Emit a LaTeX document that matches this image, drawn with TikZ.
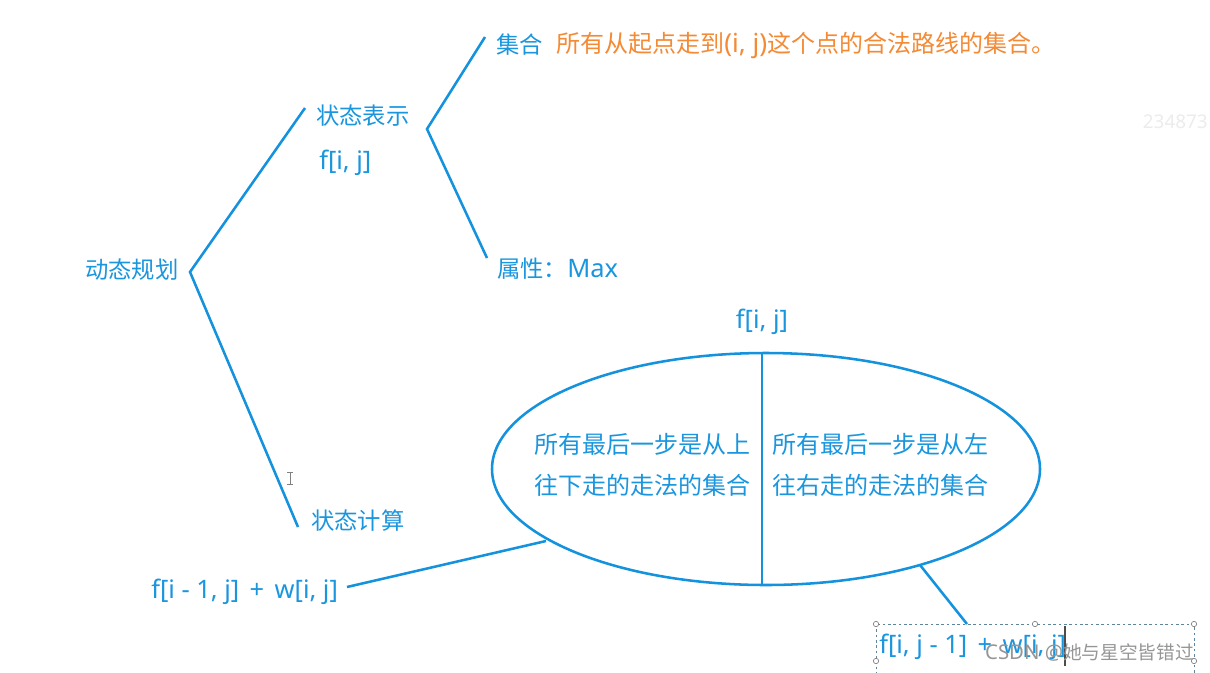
\documentclass[tikz,border=0pt]{standalone}
\usepackage{fontspec}
\usetikzlibrary{shapes.geometric}
\setmainfont{Noto Sans}[Scale=1.09]
\newfontfamily\cjk{Noto Sans CJK SC}
\definecolor{lineblue}{RGB}{20,146,222}
\definecolor{txtblue}{RGB}{26,150,222}
\definecolor{txtorange}{RGB}{244,138,52}
\definecolor{wmgray}{RGB}{150,150,150}
\definecolor{faintgray}{RGB}{236,236,236}
\newcommand{\plusgap}{\ \hspace{0.15em}+\ \hspace{0.15em}}
\tikzset{
  conn/.style={draw=lineblue, line width=1.9pt},
  lbl/.style={text=txtblue, inner sep=0pt, anchor=west, font=\fontsize{17.5}{21}\selectfont},
  clbl/.style={lbl, font=\fontsize{17.5}{21}\selectfont\cjk},
  elbl/.style={lbl, font=\fontsize{18}{22}\selectfont\cjk},
  olbl/.style={lbl, text=txtorange, font=\fontsize{18}{22}\selectfont},
  handle/.style={circle, draw=gray, fill=white, inner sep=0pt, minimum size=4pt, line width=0.5pt}
}
\begin{document}
\begin{tikzpicture}[x=0.75pt,y=-0.75pt]
\useasboundingbox (0,0) rectangle (1210,672);
\fill[white] (0,0) rectangle (1210,672);

% labels
\node[clbl] (dp) at (85,270) {动态规划};
\node[clbl] (rep) at (316,116) {状态表示};
\node[lbl] (fij) at (319,163) {f[i, j]};
\node[clbl] (set) at (496,45) {集合};
\node[olbl] (setdesc) at (556,45) {{\cjk 所有从起点走到}(i, j){\cjk 这个点的合法路线的集合。}};
\node[lbl] (attr) at (497,269) {{\cjk 属性：}Max};
\node[clbl] (calc) at (311,521) {状态计算};
\node[lbl, anchor=center] (ftop) at (762,322) {f[i, j]};

% bracket coordinates
\coordinate (b1v) at (190,272);
\coordinate (b1t) at (305,108);
\coordinate (b1b) at (298,527);
\coordinate (b2v) at (427,129);
\coordinate (b2t) at (485,37);
\coordinate (b2b) at (487,258);
\draw[conn] (b1t) -- (b1v) -- (b1b);
\draw[conn] (b2t) -- (b2v) -- (b2b);

% ellipse
\node[conn, ellipse, draw, minimum width=548*0.75pt, minimum height=232*0.75pt, inner sep=0pt] (ell) at (766,469) {};
\coordinate (vt) at (762,353);
\coordinate (vb) at (762,585);
\draw[conn] (vt) -- (vb);
\node[elbl, anchor=east, align=left] (ltxt) at (751,465) {所有最后一步是从上\\[9pt]往下走的走法的集合};
\node[elbl, anchor=west, align=left] (rtxt) at (772,465) {所有最后一步是从左\\[9pt]往右走的走法的集合};

% bottom expressions
\node[lbl] (fup) at (151,592) {f[i - 1, j]\plusgap w[i, j]};
\node[lbl] (fleft) at (879,647) {f[i, j - 1]\plusgap w[i, j]};
\coordinate (e1) at (546,541);
\coordinate (e1end) at (347,587);
\draw[conn] (e1) -- (e1end);
\coordinate (e2) at (920,565);
\coordinate (e2end) at (967,624);
\draw[conn] (e2) -- (e2end);

% selection box
\draw[gray!70!lineblue, line width=0.6pt, dash pattern=on 2pt off 2pt] (876,624) rectangle (1194,700);
\foreach \p in {(876,624),(1035,624),(1194,624),(876,661),(1194,661)}
  \node[handle] at \p {};
\draw[black!70, line width=0.8pt] (1065,626) -- (1065,666);

% cursor glyph
\draw[gray, line width=0.6pt] (290,472) -- (290,484) (287,472) -- (293,472) (287,484) -- (293,484);

% watermarks
\node[anchor=east, inner sep=0pt, text=faintgray, font=\fontsize{13}{16}\selectfont\bfseries] (wm1) at (1208,122) {234873};
\node[anchor=east, inner sep=0pt, text=wmgray, font=\fontsize{14}{18}\selectfont] (wm2) at (1194,652) {CSDN @{\cjk 她与星空皆错过}};
\end{tikzpicture}
\end{document}
